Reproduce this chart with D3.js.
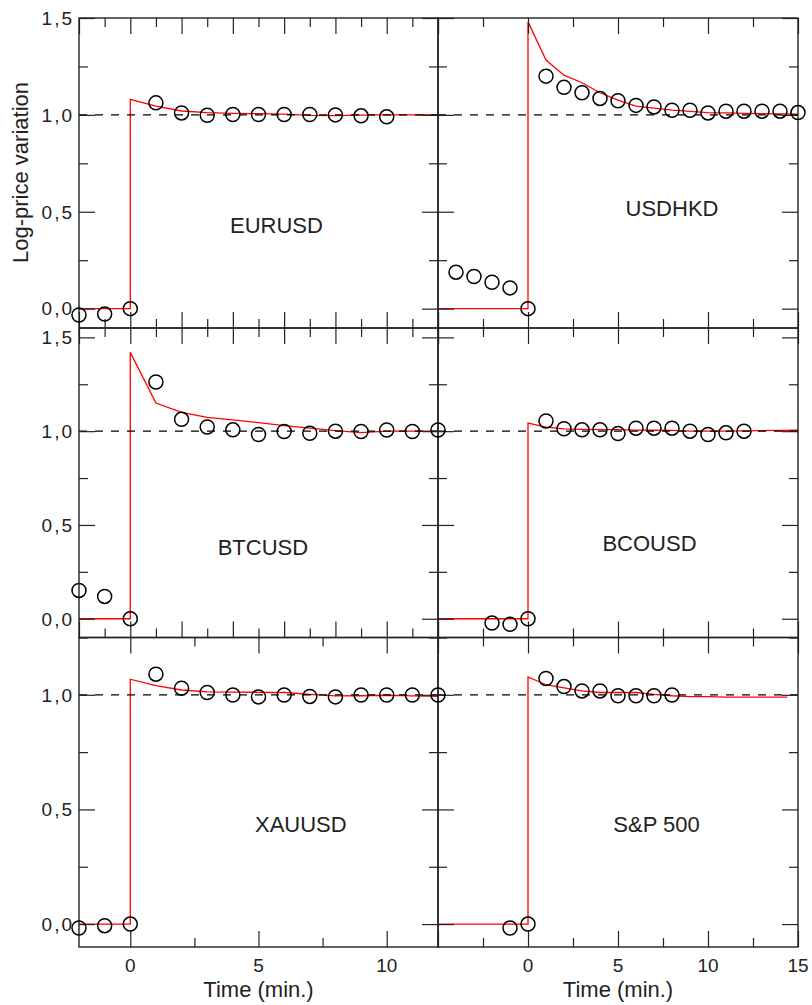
<!DOCTYPE html>
<html><head><meta charset="utf-8">
<script src="https://cdn.jsdelivr.net/npm/d3@7"></script>
<style>html,body{margin:0;padding:0;background:#fff;} svg{display:block;font-family:"Liberation Sans",Arial,sans-serif;}</style>
</head><body><svg id="c" width="812" height="1005"></svg>
<script>
// ---- data ----
const panelNames = ["EURUSD","USDHKD","BTCUSD","BCOUSD","XAUUSD","S&P 500"];

const eurT = [-2,-1,0,1,2,3,4,5,6,7,8,9,10];
const eurV = [-0.033,-0.028,0,1.062,1.010,0.998,1.002,1.002,1.002,1.002,1.0,0.995,0.99];
const eurFitT = [-2,0,0,1,2,3,4,5,6,7,8,9,10,11,12];
const eurFitV = [0,0,1.08,1.045,1.02,1.012,1.008,1.006,1.004,0.997,0.996,0.999,1.0,1.0,1.0];

const hkdT = [-4,-3,-2,-1,0,1,2,3,4,5,6,7,8,9,10,11,12,13,14,15];
const hkdV = [0.188,0.166,0.136,0.107,0,1.20,1.142,1.114,1.085,1.073,1.049,1.041,1.024,1.024,1.010,1.019,1.019,1.019,1.019,1.012];
const hkdFitT = [-5,0,0,1,2,3,4,5,6,7,8,9,10,11,12,13,14,15];
const hkdFitV = [0,0,1.48,1.283,1.205,1.166,1.114,1.076,1.045,1.035,1.024,1.018,1.012,1.01,1.008,1.006,1.005,1.004];

const btcT = [-2,-1,0,1,2,3,4,5,6,7,8,9,10,11,12];
const btcV = [0.151,0.119,0,1.262,1.063,1.022,1.007,0.982,0.998,0.989,1.0,0.998,1.006,0.998,1.006];
const btcFitT = [-2,0,0,1,2,3,4,5,6,7,8,9,10,11,12];
const btcFitV = [0,0,1.42,1.15,1.10,1.073,1.06,1.046,1.03,1.016,1.003,0.992,1.0,1.0,1.0];

const bcoT = [-2,-1,0,1,2,3,4,5,6,7,8,9,10,11,12];
const bcoV = [-0.023,-0.03,0,1.054,1.013,1.007,1.007,0.987,1.016,1.016,1.016,1.0,0.982,0.991,1.0];
const bcoFitT = [-5,0,0,1,2,3,4,5,6,7,8,9,10,11,12,13,14,15];
const bcoFitV = [0,0,1.043,1.022,1.012,1.01,1.008,1.008,1.006,1.005,1.004,1.0,1.0,1.0,1.002,1.003,1.004,1.005];

const xauT = [-2,-1,0,1,2,3,4,5,6,7,8,9,10,11,12];
const xauV = [-0.017,-0.007,0,1.09,1.029,1.01,0.999,0.991,0.999,0.993,0.991,0.999,0.999,0.999,0.999];
const xauFitT = [-2,0,0,1,2,3,4,5,6,7,8,9,10,11,12];
const xauFitV = [0,0,1.068,1.04,1.021,1.013,1.012,1.011,1.01,1.002,0.995,0.996,0.998,0.995,0.993];

const spxT = [-1,0,1,2,3,4,5,6,7,8];
const spxV = [-0.017,0,1.071,1.036,1.017,1.017,0.996,0.996,0.996,0.999];
const spxFitT = [-5,0,0,1,2,3,4,5,6,7,8,9,10,11,12,13,14,14.4];
const spxFitV = [0,0,1.078,1.044,1.03,1.017,1.01,1.01,1.01,1.002,0.996,0.992,0.992,0.99,0.99,0.99,0.99,0.99];

// label anchor positions (data coords)
const labelX = [5.7, 8.0, 5.17, 6.75, 6.65, 7.14];
const labelY = [0.39, 0.476, 0.338, 0.36, 0.40, 0.40];

// axis domains and ticks
const xDomains = [[-2,12],[-5,15]];
const yDomains = [[-0.1,1.5],[-0.1,1.55],[-0.1,1.25]];
const xMajorLeftUpper = [-2,0,2,4,6,8,10,12];
const xMinorLeftUpper = [-1,1,3,5,7,9,11];
const xMajorLeftBottom = [0,5,10];
const xMinorLeftBottom = [2.5,7.5];
const xMajorRight = [-5,0,5,10,15];
const xMinorRight = [-2.5,2.5,7.5,12.5];
const xLabelsLeft = [0,5,10];
const xLabelsRight = [0,5,10,15];
const yMajor = [[0,0.5,1.0,1.5],[0,0.5,1.0,1.5],[0,0.5,1.0]];
const yMinor = [[0.25,0.75,1.25],[0.25,0.75,1.25],[0.25,0.75,1.25]];
const yLabelVals = [[0,0.5,1.0,1.5],[0,0.5,1.0,1.5],[0,0.5,1.0]];

const xTitle = "Time (min.)";
const yTitle = "Log-price variation";

// ---- layout ----
const colX = [[79,438],[438,798]];
const rowY = [[18,328],[328,637.5],[637.5,947]];
const MAJ = 16, MIN = 9;

const panelData = [
  {t:eurT,v:eurV,ft:eurFitT,fv:eurFitV},
  {t:hkdT,v:hkdV,ft:hkdFitT,fv:hkdFitV},
  {t:btcT,v:btcV,ft:btcFitT,fv:btcFitV},
  {t:bcoT,v:bcoV,ft:bcoFitT,fv:bcoFitV},
  {t:xauT,v:xauV,ft:xauFitT,fv:xauFitV},
  {t:spxT,v:spxV,ft:spxFitT,fv:spxFitV}
];

const svg = d3.select("#c");
const fmt = d3.formatLocale({decimal:",",thousands:".",grouping:[3],currency:["",""]}).format(".1f");
const layerLines = svg.append("g");
const layerAxes = svg.append("g");
const layerPts = svg.append("g");
const layerText = svg.append("g");

function tickSet(g, axisFn, scale, values, size, transform){
  g.append("g").attr("transform", transform)
    .call(axisFn(scale).tickValues(values).tickSize(-size).tickFormat(""))
    .call(s=>{ s.select(".domain").remove(); s.selectAll("text").remove(); })
    .selectAll("line").attr("stroke","#222").attr("stroke-width",1.2);
}

panelData.forEach((p,i)=>{
  const r = Math.floor(i/2), c = i%2;
  const x = d3.scaleLinear().domain(xDomains[c]).range(colX[c]);
  const y = d3.scaleLinear().domain(yDomains[r]).range([rowY[r][1], rowY[r][0]]);
  const [x0,x1] = colX[c], [y0,y1] = rowY[r];

  // fit line (red)
  const line = d3.line().x(d=>x(d[0])).y(d=>y(d[1]));
  layerLines.append("path").datum(d3.zip(p.ft,p.fv)).attr("d",line)
    .attr("fill","none").attr("stroke","#ff0000").attr("stroke-width",1.3);
  // dashed reference at 1
  layerLines.append("line").attr("x1",x0).attr("x2",x1).attr("y1",y(1)).attr("y2",y(1))
    .attr("stroke","#000").attr("stroke-width",1.2).attr("stroke-dasharray","8,8");

  // ticks
  let xmaj, xmin;
  if (c===1){ xmaj=xMajorRight; xmin=xMinorRight; }
  else if (r===2){ xmaj=xMajorLeftBottom; xmin=xMinorLeftBottom; }
  else { xmaj=xMajorLeftUpper; xmin=xMinorLeftUpper; }
  const ga = layerAxes.append("g");
  tickSet(ga, d3.axisBottom, x, xmaj, MAJ, `translate(0,${y1})`);
  tickSet(ga, d3.axisBottom, x, xmin, MIN, `translate(0,${y1})`);
  tickSet(ga, d3.axisTop, x, xmaj, MAJ, `translate(0,${y0})`);
  tickSet(ga, d3.axisTop, x, xmin, MIN, `translate(0,${y0})`);
  tickSet(ga, d3.axisLeft, y, yMajor[r], MAJ, `translate(${x0},0)`);
  tickSet(ga, d3.axisLeft, y, yMinor[r], MIN, `translate(${x0},0)`);
  tickSet(ga, d3.axisRight, y, yMajor[r], MAJ, `translate(${x1},0)`);
  tickSet(ga, d3.axisRight, y, yMinor[r], MIN, `translate(${x1},0)`);
  ga.append("rect").attr("x",x0).attr("y",y0).attr("width",x1-x0).attr("height",y1-y0)
    .attr("fill","none").attr("stroke","#222").attr("stroke-width",1.4);

  // points
  layerPts.append("g").selectAll("circle").data(d3.zip(p.t,p.v)).join("circle")
    .attr("cx",d=>x(d[0])).attr("cy",d=>y(d[1])).attr("r",7)
    .attr("fill","none").attr("stroke","#000").attr("stroke-width",1.5);

  // panel label
  layerText.append("text").attr("x",x(labelX[i])).attr("y",y(labelY[i]))
    .attr("text-anchor","middle").attr("font-size",22).attr("fill","#222").text(panelNames[i]);

  // y labels
  if (c===0){
    layerText.append("g").selectAll("text").data(yLabelVals[r]).join("text")
      .attr("x",x0-5).attr("y",d=>y(d)).attr("dy","0.36em")
      .attr("text-anchor","end").attr("font-size",19).attr("letter-spacing",2).attr("fill","#222")
      .text(d=>fmt(d));
  }
  // x labels
  if (r===2){
    const vals = c===0 ? xLabelsLeft : xLabelsRight;
    layerText.append("g").selectAll("text").data(vals).join("text")
      .attr("x",d=>x(d)).attr("y",y1+25)
      .attr("text-anchor","middle").attr("font-size",19).attr("fill","#222").text(d=>d);
    layerText.append("text").attr("x",(x0+x1)/2).attr("y",y1+49.5)
      .attr("text-anchor","middle").attr("font-size",22).attr("fill","#222").text(xTitle);
  }
});

layerText.append("text").attr("transform","translate(27.5,172.5) rotate(-90)")
  .attr("text-anchor","middle").attr("font-size",22).attr("fill","#222").text(yTitle);
</script></body></html>
